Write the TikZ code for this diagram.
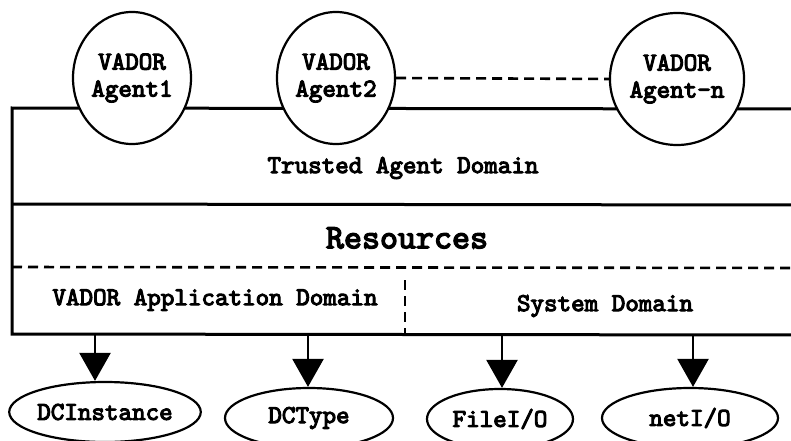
\documentclass[tikz,border=0pt]{standalone}
\usepackage{fontspec}
\newfontfamily\heavytt{lmmono10-regular.otf}[FakeBold=4]
\usetikzlibrary{arrows.meta,shapes.geometric}
\begin{document}
\begin{tikzpicture}[x=1pt,y=1pt,
  frame/.style={line width=3pt},
  dashline/.style={line width=2.6pt,dash pattern=on 10pt off 6pt},
  tt/.style={font=\fontsize{25.8}{27}\heavytt},
  agent/.style={tt,draw,ellipse,line width=2.2pt,fill=white,minimum width=118pt,minimum height=132pt,inner sep=0pt,align=center},
  res/.style={tt,draw,ellipse,line width=2.2pt,fill=white,minimum height=60pt,inner sep=0pt},
  lbl/.style={tt},
  arr/.style={line width=2.4pt,-{Triangle[length=28pt,width=31pt]}}
]
\useasboundingbox (0,0) rectangle (791,440);
\fill[white] (0,0) rectangle (791,440);

% outer frame, open to the right
\draw[frame] (800,331) -- (12,332) -- (12,106) -- (800,105);
% frame between trusted domain and resources
\draw[frame] (12,236) -- (800,235);
% dashed separators
\draw[dashline] (12,173) -- (800,172);
\draw[dashline] (405,160) -- (405,106);

% agents
\node[agent] (a1) at (132,362) {VADOR\\Agent1};
\node[agent] (a2) at (336,362) {VADOR\\Agent2};
\node[agent] (an) at (677,361) {VADOR\\Agent-n};
\draw[dashline] (a2.east) -- (an.west);

% domain labels
\node[lbl] (tad) at (403,272) {Trusted Agent Domain};
\node[font=\fontsize{34.3}{36}\heavytt] (resl) at (407,202) {Resources};
\node[lbl] (vad) at (215,140) {VADOR Application Domain};
\node[lbl] (sd) at (605,134) {System Domain};

% resources
\node[res,minimum width=154pt] (dci) at (105,28) {DCInstance};
\node[res,minimum width=168pt] (dct) at (309,22) {DCType};
\node[res,minimum width=146pt] (fio) at (500,21) {FileI/O};
\node[res,minimum width=176pt] (nio) at (690,22) {netI/O};

% arrows from the frame down to the resources
\coordinate (s1) at (95,106);
\coordinate (s2) at (308,106);
\coordinate (s3) at (502,105);
\coordinate (s4) at (693,105);
\draw[arr] (s1) -- (s1 |- dci.north);
\draw[arr] (s2) -- (s2 |- dct.north);
\draw[arr] (s3) -- (s3 |- fio.north);
\draw[arr] (s4) -- (s4 |- nio.north);
\end{tikzpicture}
\end{document}
